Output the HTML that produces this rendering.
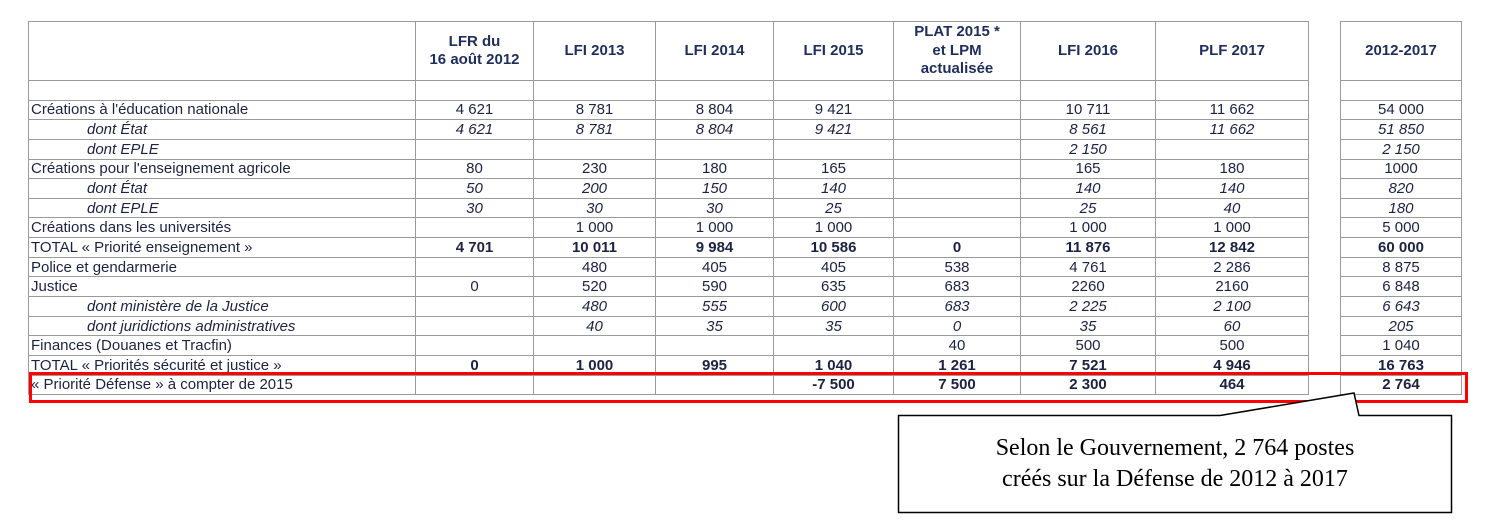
<!DOCTYPE html>
<html><head><meta charset="utf-8">
<style>
body{margin:0;width:1486px;height:527px;background:#fff;position:relative;overflow:hidden;font-family:"Liberation Sans",Arial,sans-serif;color:#1c2340}
table{position:absolute;border-collapse:collapse;table-layout:fixed;font-size:15px}
td,th{border:1px solid #9a9a9a;padding:0;text-align:center;line-height:16px;white-space:nowrap;overflow:hidden}
th{font-weight:bold;font-size:15px;line-height:18.5px;color:#1f2e5a}
tr.d td{height:17.65px;padding-top:1px}
td.l{text-align:left;padding-left:2px}
tr.i td{font-style:italic}
tr.i td.l{padding-left:58px}
tr.b td{font-weight:bold}
tr.b td.l{font-weight:normal}
#red{position:absolute;left:29px;top:372px;width:1433px;height:25px;border:3px solid #f00}
#callout{position:absolute;left:0;top:0}
#ctext{position:absolute;left:898px;top:415px;width:554px;height:98px;display:flex;align-items:center;justify-content:center;text-align:center;font-family:"Liberation Serif",serif;font-size:24px;line-height:31px;color:#000}
</style></head>
<body>
<table id="main" style="left:28px;top:21px;width:1281px">
<colgroup><col style="width:387px"><col style="width:118px"><col style="width:122px"><col style="width:118px"><col style="width:120px"><col style="width:127px"><col style="width:135px"><col style="width:153px"></colgroup>
<tr style="height:59px"><th></th><th>LFR du<br>16 août 2012</th><th>LFI 2013</th><th>LFI 2014</th><th>LFI 2015</th><th>PLAT 2015 *<br>et LPM<br>actualisée</th><th>LFI 2016</th><th>PLF 2017</th></tr>
<tr class="d"><td></td><td></td><td></td><td></td><td></td><td></td><td></td><td></td></tr>
<tbody id="mb"></tbody>
</table>
<table id="side" style="left:1340px;top:21px;width:121px">
<colgroup><col style="width:121px"></colgroup>
<tr style="height:59px"><th>2012-2017</th></tr>
<tr class="d"><td></td></tr>
<tbody id="sb"></tbody>
</table>
<div id="red"></div>
<svg id="callout" width="1486" height="527">
<path d="M898.5 415.5 H1220 L1354 393 L1359 415.5 H1451.5 V512.5 H898.5 Z" fill="#fff" stroke="#000" stroke-width="1.5"/>
</svg>
<div id="ctext">Selon le Gouvernement, 2 764 postes<br>créés sur la Défense de 2012 à 2017</div>
<script>
const labels=["Créations à l'éducation nationale","dont  État","dont EPLE","Créations pour l'enseignement agricole","dont  État","dont EPLE","Créations dans les universités","TOTAL « Priorité enseignement »","Police et gendarmerie","Justice","dont ministère de la Justice","dont juridictions administratives","Finances (Douanes et Tracfin)","TOTAL « Priorités sécurité et justice »","« Priorité Défense » à compter de 2015"];
const styles=["","i","i","","i","i","","b","","","i","i","","b","b"];
const values=[
["4 621","8 781","8 804","9 421","","10 711","11 662"],
["4 621","8 781","8 804","9 421","","8 561","11 662"],
["","","","","","2 150",""],
["80","230","180","165","","165","180"],
["50","200","150","140","","140","140"],
["30","30","30","25","","25","40"],
["","1 000","1 000","1 000","","1 000","1 000"],
["4 701","10 011","9 984","10 586","0","11 876","12 842"],
["","480","405","405","538","4 761","2 286"],
["0","520","590","635","683","2260","2160"],
["","480","555","600","683","2 225","2 100"],
["","40","35","35","0","35","60"],
["","","","","40","500","500"],
["0","1 000","995","1 040","1 261","7 521","4 946"],
["","","","-7 500","7 500","2 300","464"]];
const totals=["54 000","51 850","2 150","1000","820","180","5 000","60 000","8 875","6 848","6 643","205","1 040","16 763","2 764"];
const mb=document.getElementById('mb'),sb=document.getElementById('sb');
labels.forEach((lab,i)=>{
 const tr=document.createElement('tr');
 tr.className='d '+styles[i];
 
 
 const l=document.createElement('td');l.className='l';l.textContent=lab;
 
 
 tr.appendChild(l);
 values[i].forEach(v=>{const td=document.createElement('td');td.textContent=v;
  
  
  tr.appendChild(td);});
 mb.appendChild(tr);
 const tr2=document.createElement('tr');tr2.className='d '+styles[i];
 
 
 const t=document.createElement('td');t.textContent=totals[i];
 
 
 tr2.appendChild(t);sb.appendChild(tr2);
});
</script>
</body></html>
